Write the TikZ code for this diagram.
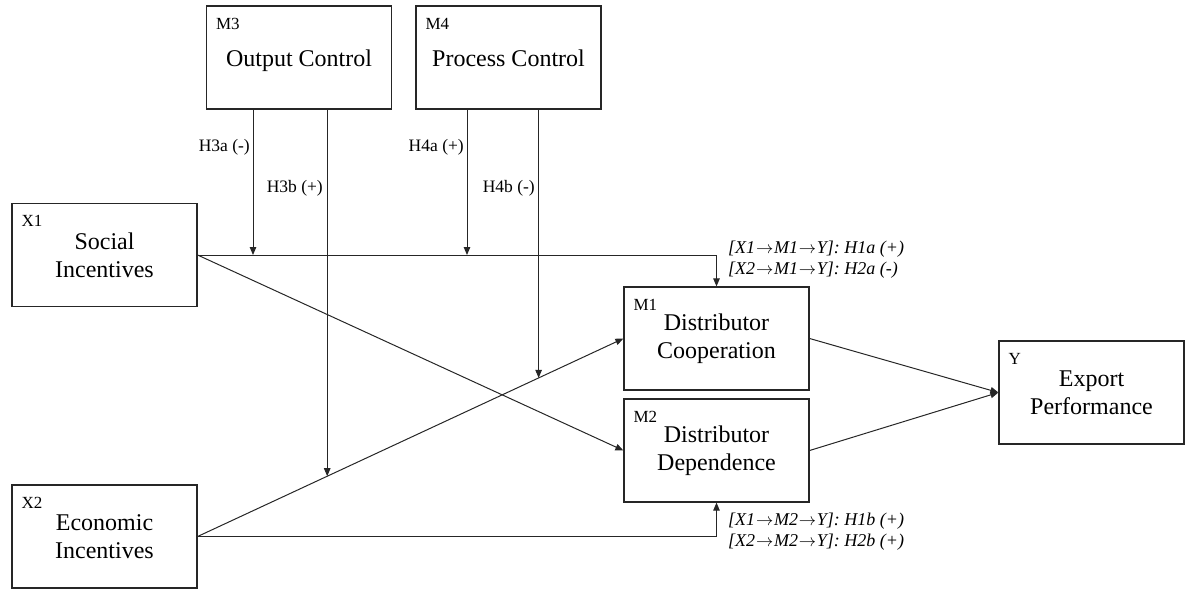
\documentclass[tikz,border=0pt]{standalone}
\usepackage{fontspec}
\setmainfont{Liberation Serif}
\usetikzlibrary{arrows.meta,calc}
% long thin arrow used inside the route labels
\newcommand{\routearrow}{\kern0.8pt$\rightarrow$\kern0.8pt}
\begin{document}
\begin{tikzpicture}[x=1pt,y=-1pt,
  box/.style={draw=black!85, line width=1.2pt, minimum width=185pt, minimum height=103pt,
    inner sep=0pt, align=center, font=\fontsize{24}{28}\selectfont},
  oneline/.style={text height=18pt, text depth=0pt},
  idlab/.style={font=\fontsize{17}{20}\selectfont, anchor=base west, inner sep=0pt,
    xshift=10pt, yshift=-24pt},
  link/.style={draw=black!85, line width=1pt, -{Triangle[length=8pt,width=6.5pt]}},
  hyp/.style={font=\fontsize{17.5}{21}\selectfont, anchor=base east, inner sep=0pt},
  route/.style={font=\itshape\fontsize{18}{21}\selectfont, anchor=base west, inner sep=0pt}
]
\useasboundingbox (0,0) rectangle (1197,592);

% constructs
\node[box, oneline, label={[idlab]north west:M3}] (M3) at (299,57.5) {Output Control};
\node[box, oneline, label={[idlab]north west:M4}] (M4) at (508.5,57.5) {Process Control};
\node[box, label={[idlab]north west:X1}] (X1) at (104.5,255) {Social\\Incentives};
\node[box, label={[idlab]north west:X2}] (X2) at (104.5,536.5) {Economic\\Incentives};
\node[box, label={[idlab]north west:M1}] (M1) at (716.5,338.5) {Distributor\\Cooperation};
\node[box, label={[idlab]north west:M2}] (M2) at (716.5,450.5) {Distributor\\Dependence};
\node[box, label={[idlab]north west:Y}] (Y) at (1091.5,392.5) {Export\\Performance};

% main paths
\draw[link] (X1.east) -| (M1.north);
\draw[link] (X2.east) -| (M2.south);
\draw[link] (X1.east) -- (M2.west);
\draw[link] (X2.east) -- (M1.west);
\draw[link] (M1.east) -- (Y.west);
\draw[link] (M2.east) -- (Y.west);

% moderation points on the paths
\coordinate (h3a) at (253,255);
\coordinate (h4a) at (467,255);
\coordinate (h3b) at ($(X2.east)!0.3044!(M1.west)$);
\coordinate (h4b) at ($(X2.east)!0.8009!(M1.west)$);

\draw[link] (h3a |- M3.south) -- (h3a);
\draw[link] (h3b |- M3.south) -- (h3b);
\draw[link] (h4a |- M4.south) -- (h4a);
\draw[link] (h4b |- M4.south) -- (h4b);

% hypothesis labels
\node[hyp] (l3a) at (250,151) {H3a (-)};
\node[hyp] (l3b) at (323,192) {H3b (+)};
\node[hyp] (l4a) at (464,151) {H4a (+)};
\node[hyp] (l4b) at (535,192) {H4b (-)};

% mediation routes
\node[route] (r1a) at (728,253) {[X1\routearrow M1\routearrow Y]: H1a (+)};
\node[route] (r2a) at (728,274) {[X2\routearrow M1\routearrow Y]: H2a (-)};
\node[route] (r1b) at (728,525) {[X1\routearrow M2\routearrow Y]: H1b (+)};
\node[route] (r2b) at (728,546) {[X2\routearrow M2\routearrow Y]: H2b (+)};
\end{tikzpicture}
\end{document}
